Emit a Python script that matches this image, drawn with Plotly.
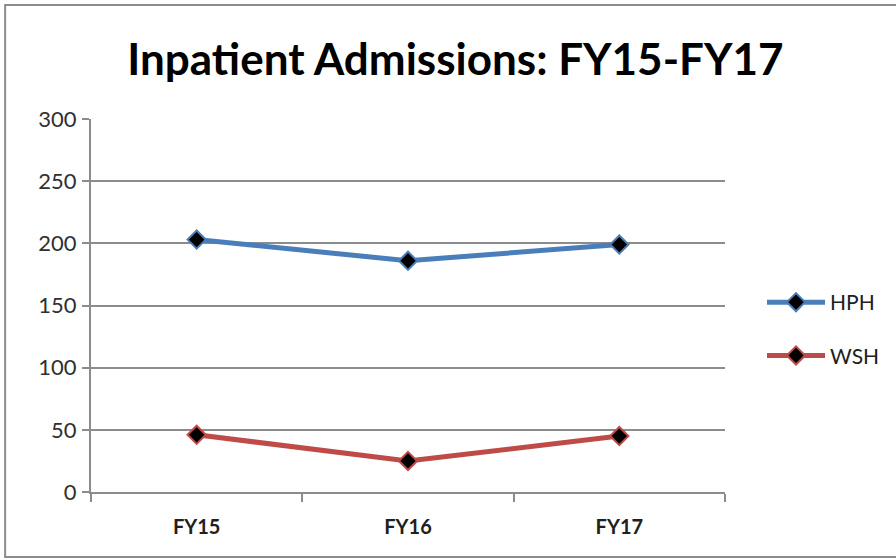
import plotly.graph_objects as go

# Inpatient admissions by fiscal year
categories = ["FY15", "FY16", "FY17"]
hph_values = [203, 186, 199]
wsh_values = [46, 25, 45]
y_ticks = [0, 50, 100, 150, 200, 250, 300]

W, H = 896, 559
L, R, T, B = 91, 170, 119, 67
pw, ph = W - L - R, H - T - B


def px_to_paper_x(px):
    return (px - L) / pw


def px_to_paper_y(py):
    return (H - B - py) / ph


fig = go.Figure()

series = [
    ("HPH", hph_values, "#4A7EBB"),
    ("WSH", wsh_values, "#BE4B48"),
]
for name, vals, color in series:
    fig.add_trace(go.Scatter(
        x=categories, y=vals, name=name, mode="lines+markers",
        legendgroup=name,
        line=dict(color=color, width=5),
        marker=dict(symbol="diamond", size=14, color="black",
                    line=dict(color=color, width=2)),
    ))

fig.update_layout(
    width=W, height=H,
    margin=dict(l=L, r=R, t=T, b=B),
    paper_bgcolor="white", plot_bgcolor="white",
    font=dict(family="Lato, Open Sans, sans-serif", color="#404040"),
    title=dict(text="<b>Inpatient Admissions: FY15-FY17</b>",
               x=px_to_paper_x(456), xref="paper", xanchor="center",
               y=1 - 60 / H, yanchor="middle",
               font=dict(size=44, color="black", family="Lato, sans-serif")),
    showlegend=True,
    legend=dict(x=px_to_paper_x(762), y=px_to_paper_y(282),
                xanchor="left", yanchor="top",
                font=dict(size=21, color="#202020"),
                itemwidth=58, tracegroupgap=23,
                bgcolor="rgba(0,0,0,0)"),
    xaxis=dict(type="category", showgrid=False,
               showline=True, linecolor="#8C8C8C", linewidth=2,
               ticks="outside", tickson="boundaries", ticklen=8,
               tickcolor="#8C8C8C", tickwidth=2,
               tickfont=dict(size=20, color="#202020", family="Lato, sans-serif"),
               ticklabelstandoff=16,
               range=[-0.5, 2.5]),
    yaxis=dict(range=[0, 300], tickvals=y_ticks,
               showgrid=True, gridcolor="#8C8C8C", gridwidth=2,
               showline=True, linecolor="#8C8C8C", linewidth=2,
               ticks="outside", ticklen=7, tickcolor="#8C8C8C", tickwidth=2,
               tickfont=dict(size=22, color="#303030"),
               ticklabelstandoff=1, zeroline=False),
)

fig.update_xaxes(tickprefix="<b>", ticksuffix="</b>")

# Outer chart border (open on the right edge)
fig.add_shape(type="rect", xref="paper", yref="paper",
              x0=px_to_paper_x(5), x1=px_to_paper_x(900),
              y0=px_to_paper_y(557), y1=px_to_paper_y(5),
              line=dict(color="#8C8C8C", width=2), layer="below")

fig.write_html("out.html")
